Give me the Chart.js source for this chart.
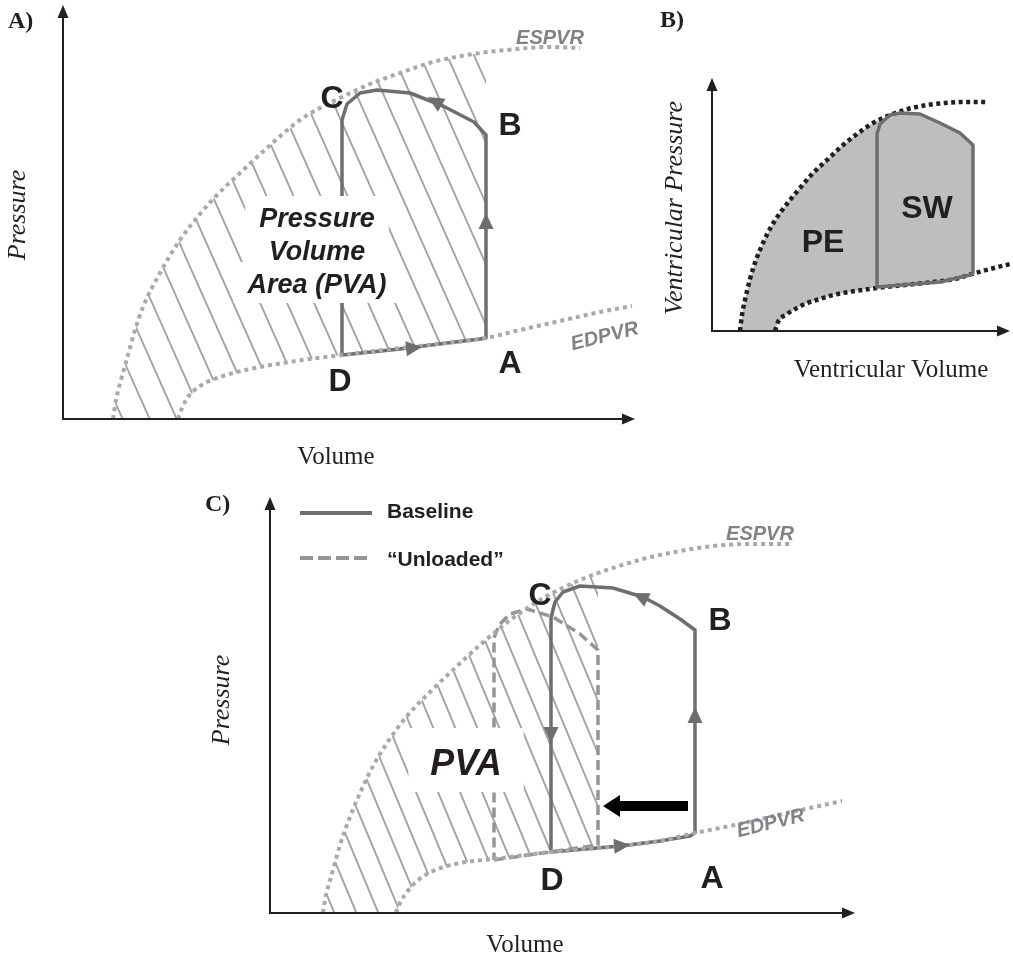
<!DOCTYPE html>
<html><head><meta charset="utf-8">
<script src="https://cdn.jsdelivr.net/npm/chart.js@4/dist/chart.umd.min.js"></script>
<style>
html,body{margin:0;padding:0;background:#fff;}
body{width:1013px;height:969px;position:relative;overflow:hidden;}
canvas{position:absolute;}
</style></head><body>
<canvas id="cA" width="660" height="480" style="left:0;top:0;width:660px;height:480px"></canvas>
<canvas id="cB" width="363" height="400" style="left:650px;top:0;width:363px;height:400px"></canvas>
<canvas id="cC" width="823" height="489" style="left:190px;top:480px;width:823px;height:489px"></canvas>
<script>
// ================= DATA (volume, pressure in arbitrary units) =================
// Panel A
const espvrA = [[12.5,0],[13.25,4.75],[14.5,9.75],[16.25,16],[18,22.25],[20,28],[24.25,36.5],[29.25,44.75],[34.25,51.25],[38.5,56],[44.25,61.5],[51,67.75],[59.25,74.75],[69.25,80.25],[76.75,83.75],[84.25,86.5],[92.5,89.25],[101,91],[113.5,92.5],[121.75,93],[129.25,92.75]];
const edpvrA = [[28.75,0],[29.75,2.75],[31.25,5.5],[34.25,8.25],[39.25,10.5],[46.75,12.5],[55,14],[63.5,15.25],[70,16],[84.25,17.75],[96,19],[105.75,20.25],[114.25,22.25],[124.25,24.5],[134.25,26.75],[142.25,28.25]];
const loopA = [[69.75,16],[84.25,17.5],[96,19],[104.25,20],[105.75,20.25],[105.75,71],[102.75,74.25],[95,78.25],[86.75,81.5],[78.5,82.25],[74.25,81.5],[71,78.75],[69.75,74.75],[69.75,16]];
const arrowsA = [{tip:[105.75,51.5],from:[105.75,45]},{tip:[89.75,18],from:[84.25,17.4]},{tip:[91.25,80.5],from:[95,78.25]}];
const pvaRightA = 105.75;

// Panel B
const espvrB = [[14,0],[15,8],[16.5,15.5],[19,26],[22,35.5],[25.5,44],[29.5,52],[34,59],[39,65.5],[44,71.5],[50.5,79],[57.5,85.5],[65,92.5],[72.5,98.5],[80.5,104],[89,108],[98,111],[107.5,113],[116.5,114],[124,114.5],[138,114.5]];
const edpvrB = [[31.5,0],[33,4.5],[37.5,8.5],[42.5,11.5],[47.5,14],[54,16],[60.5,18],[71.5,20],[82.5,21.5],[96.5,23],[110.5,24.5],[121.5,26],[130,28.5],[139,31],[149,33.5]];
const loopB = [[82.5,22],[114,24.5],[129,28],[130.5,29],[130.5,93],[124,99],[114,104],[104,108.5],[94,109],[89,108],[84,103.5],[82.5,98.5],[82.5,22]];

// Panel C
const espvrC = [[13.25,0],[13.75,3.25],[15.75,10.75],[17.5,17],[20,24],[22.5,30],[25.5,36.25],[29.25,42.5],[34.25,49.25],[40,55.25],[46.25,61.25],[52.5,67],[60.75,73.75],[69.25,79.25],[77.5,83.25],[85.75,86.25],[94.25,88.75],[102.5,90.5],[110.75,91.75],[120,92.25],[130,92.25]];
const edpvrC = [[31.5,0],[32.5,2.5],[34.25,5.25],[36.75,8],[40.75,10.5],[47.5,12.5],[55.75,13.5],[70.25,15.25],[87.5,16.75],[97.5,18],[106.25,20],[115,21.75],[125,24],[135,26.25],[143,28]];
const baselineC = [[70.25,15.25],[87.5,16.75],[97.5,18],[105,19.25],[106.25,20],[106.25,70.75],[102.5,73.5],[97.5,76.75],[93.25,79],[85.75,81.25],[77.5,81.75],[73.25,80.25],[71.25,77.75],[70.25,73.75],[70.25,15.25]];
const unloadedC = [[56,13.25],[82,17],[82,65.75],[77.5,69.75],[70.75,74],[64.25,76],[60,74.75],[57.25,72],[56,68.75],[56,13.25]];
const arrowsC = [{tip:[106.25,51.5],from:[106.25,45]},{tip:[70.25,42.5],from:[70.25,49]},{tip:[90,17],from:[84,16.5]},{tip:[90.75,80],from:[97.5,76.75]}];
const shiftArrowC = [[104.5,26.75],[83.25,26.75]];
const pvaRightC = 82;

// ================= HELPERS =================
const INK = '#231f20', LOOP = '#6d6e70', DOT = '#a7a9ac', HATCH = '#a0a2a5';
const SANS = '"Liberation Sans", Arial, sans-serif', SERIF = '"Liberation Serif", "Times New Roman", serif';

function interpY(arr, x){
  for (let i=1;i<arr.length;i++){const [x0,y0]=arr[i-1],[x1,y1]=arr[i]; if(x>=x0&&x<=x1) return y0+(y1-y0)*(x-x0)/(x1-x0);}
  return arr[arr.length-1][1];
}
function pvaRegion(esp, edp, xr){
  const top = esp.filter(p=>p[0]<xr); top.push([xr, interpY(esp,xr)]);
  const bot = edp.filter(p=>p[0]<xr); bot.push([xr, interpY(edp,xr)]);
  return top.concat(bot.reverse());
}
function lineDS(label, pts, color, width, dash, smooth){
  return {label, data:pts.map(([x,y])=>({x,y})), showLine:true, borderColor:color, backgroundColor:color,
    borderWidth:width, borderDash:dash||[], pointRadius:0, pointHoverRadius:0, fill:false, clip:false,
    cubicInterpolationMode: smooth?'monotone':'default', tension:0,
    borderCapStyle: (dash&&dash.length)?'butt':'round', borderJoinStyle:'round'};
}
function px(chart, p){ return [chart.scales.x.getPixelForValue(p[0]), chart.scales.y.getPixelForValue(p[1])]; }
function polyPath(chart, pts){
  const ctx = chart.ctx; ctx.beginPath();
  pts.forEach((p,i)=>{const [a,b]=px(chart,p); i?ctx.lineTo(a,b):ctx.moveTo(a,b);}); ctx.closePath();
}
function arrowHead(ctx, tip, from, len, half, color){
  const ang = Math.atan2(tip[1]-from[1], tip[0]-from[0]);
  ctx.save(); ctx.translate(tip[0],tip[1]); ctx.rotate(ang);
  ctx.beginPath(); ctx.moveTo(0,0); ctx.lineTo(-len,-half); ctx.lineTo(-len,half); ctx.closePath();
  ctx.fillStyle=color; ctx.fill(); ctx.restore();
}
function drawAxes(chart){
  const {ctx, chartArea:{left,right,top,bottom}} = chart;
  ctx.save(); ctx.strokeStyle=INK; ctx.lineWidth=2; ctx.lineCap='butt';
  ctx.beginPath(); ctx.moveTo(left,bottom+1); ctx.lineTo(left,top+8);
  ctx.moveTo(left-1,bottom); ctx.lineTo(right-8,bottom); ctx.stroke();
  arrowHead(ctx,[left,top],[left,bottom],13,5.5,INK);
  arrowHead(ctx,[right,bottom],[left,bottom],13,5.5,INK);
  ctx.restore();
}
function text(ctx, off, s, x, y, font, color, align, base, rot){
  ctx.save(); ctx.translate(x-off[0], y-off[1]); if(rot) ctx.rotate(rot*Math.PI/180);
  ctx.font=font; ctx.fillStyle=color; ctx.textAlign=align||'center'; ctx.textBaseline=base||'alphabetic';
  ctx.fillText(s,0,0); ctx.restore();
}
function hatch(chart, region, anchor, spacing, slope){
  const {ctx, chartArea:{left,right,top,bottom}} = chart;
  ctx.save(); polyPath(chart, region); ctx.clip();
  ctx.strokeStyle=HATCH; ctx.lineWidth=1.9;
  const y0=top-20, y1=bottom+20;
  for(let k=-80;k<80;k++){
    const xb = anchor[0]+k*spacing;
    const xa = xb+(y0-anchor[1])/slope, xc = xb+(y1-anchor[1])/slope;
    if (Math.max(xa,xc)<left-50 || Math.min(xa,xc)>right+50) continue;
    ctx.beginPath(); ctx.moveTo(xa,y0); ctx.lineTo(xc,y1); ctx.stroke();
  }
  ctx.restore();
}
function drawArrows(chart, list, color){
  list.forEach(a=>arrowHead(chart.ctx, px(chart,a.tip), px(chart,a.from), 16, 7.5, color));
}
function boxedLines(ctx, off, lines, cx, baselines, font, padX, padTop, padBot){
  ctx.save(); ctx.font=font;
  lines.forEach((s,i)=>{const w=ctx.measureText(s).width; ctx.fillStyle='#fff';
    ctx.fillRect(cx-off[0]-w/2-padX, baselines[i]-off[1]-padTop, w+2*padX, padTop+padBot);});
  lines.forEach((s,i)=>text(ctx, off, s, cx, baselines[i], font, INK));
  ctx.restore();
}
function baseOptions(pad, xmax, ymax){
  return {responsive:false, animation:false, devicePixelRatio:1, events:[],
    layout:{padding:pad},
    scales:{x:{type:'linear',display:false,min:0,max:xmax}, y:{type:'linear',display:false,min:0,max:ymax}},
    plugins:{legend:{display:false}, tooltip:{enabled:false}, title:{display:false}}};
}
const LETTER = 'bold 32px '+SANS;
const LINELBL = 'bold italic 20px '+SANS;

// ================= PANEL A =================
(function(){
  const off=[0,0];
  new Chart(document.getElementById('cA'), {
    type:'scatter',
    data:{datasets:[
      lineDS('ESPVR', espvrA, DOT, 4, [4,4], true),
      lineDS('EDPVR', edpvrA, DOT, 4, [4,4], true),
      lineDS('Loop', loopA, LOOP, 3.5, null, false)
    ]},
    options: baseOptions({left:63, top:5, right:25, bottom:61}, 143, 103.5),
    plugins:[{id:'decorA',
      beforeDatasetsDraw(chart){ hatch(chart, pvaRegion(espvrA, edpvrA, pvaRightA), [147,413], 27, 2.25); },
      afterDatasetsDraw(chart){
        const ctx=chart.ctx;
        drawArrows(chart, arrowsA, LOOP);
        boxedLines(ctx, off, ['Pressure','Volume','Area (PVA)'], 317, [227,260,293], 'bold italic 27px '+SANS, 14, 31, 10);
        drawAxes(chart);
        text(ctx, off, 'A)', 8, 28, 'bold 24px '+SERIF, INK, 'left');
        text(ctx, off, 'Pressure', 18, 215, 'italic 26px '+SERIF, INK, 'center', 'middle', -90);
        text(ctx, off, 'Volume', 336, 457, '25px '+SERIF, INK, 'center', 'middle');
        text(ctx, off, 'ESPVR', 550, 44, LINELBL, '#808285');
        text(ctx, off, 'EDPVR', 606, 342, LINELBL, '#808285', 'center', 'alphabetic', -14);
        text(ctx, off, 'C', 332, 108, LETTER, INK);
        text(ctx, off, 'B', 510, 135, LETTER, INK);
        text(ctx, off, 'A', 510, 373, LETTER, INK);
        text(ctx, off, 'D', 340, 391, LETTER, INK);
      }}]
  });
})();

// ================= PANEL B =================
(function(){
  const off=[650,0];
  const regionB = espvrB.filter(p=>p[0]<89).concat(loopB.slice(0,10).reverse(), edpvrB.filter(p=>p[0]<82.5).reverse());
  new Chart(document.getElementById('cB'), {
    type:'scatter',
    data:{datasets:[
      lineDS('SW loop', loopB, LOOP, 3.5, null, false),
      lineDS('ESPVR', espvrB, INK, 4.5, [4,3.5], true),
      lineDS('EDPVR', edpvrB, INK, 4.5, [4,3.5], true)
    ]},
    options: baseOptions({left:62, top:78, right:3, bottom:69}, 149, 126.5),
    plugins:[{id:'decorB',
      beforeDatasetsDraw(chart){ const ctx=chart.ctx; ctx.save(); polyPath(chart, regionB); ctx.fillStyle='#bcbec0'; ctx.fill(); ctx.restore(); },
      afterDatasetsDraw(chart){
        const ctx=chart.ctx;
        drawAxes(chart);
        text(ctx, off, 'B)', 660, 27, 'bold 24px '+SERIF, INK, 'left');
        text(ctx, off, 'Ventricular Pressure', 675, 208, 'italic 26px '+SERIF, INK, 'center', 'middle', -90);
        text(ctx, off, 'Ventricular Volume', 891, 370, '25px '+SERIF, INK, 'center', 'middle');
        text(ctx, off, 'PE', 823, 252, 'bold 32px '+SANS, INK);
        text(ctx, off, 'SW', 927, 218, 'bold 32px '+SANS, INK);
      }}]
  });
})();

// ================= PANEL C =================
(function(){
  const off=[190,480];
  new Chart(document.getElementById('cC'), {
    type:'scatter',
    data:{datasets:[
      lineDS('ESPVR', espvrC, DOT, 4, [4,4], true),
      lineDS('EDPVR', edpvrC, DOT, 4, [4,4], true),
      lineDS('“Unloaded”', unloadedC, '#939598', 3.5, [10,5], false),
      lineDS('Baseline', baselineC, LOOP, 3.5, null, false)
    ]},
    options: baseOptions({left:80, top:17, right:158, bottom:56}, 146.25, 104),
    plugins:[{id:'decorC',
      beforeDatasetsDraw(chart){ hatch(chart, pvaRegion(espvrC, edpvrC, pvaRightC), [183,420], 22, 2.4); },
      afterDatasetsDraw(chart){
        const ctx=chart.ctx;
        drawArrows(chart, arrowsC, LOOP);
        // black shift arrow
        const t=px(chart, shiftArrowC[0]), h=px(chart, shiftArrowC[1]);
        ctx.save(); ctx.fillStyle='#000';
        const hl=17; ctx.fillRect(h[0]+hl-1, t[1]-5, t[0]-h[0]-hl+1, 10);
        arrowHead(ctx, h, t, hl, 11, '#000'); ctx.restore();
        boxedLines(ctx, off, ['PVA'], 466, [775], 'bold italic 36px '+SANS, 22, 47, 17);
        drawAxes(chart);
        // legend
        const ds = chart.data.datasets;
        ctx.save(); ctx.lineWidth=4; ctx.lineCap='butt';
        ctx.strokeStyle=ds[3].borderColor; ctx.beginPath(); ctx.moveTo(300-off[0],513-off[1]); ctx.lineTo(372-off[0],513-off[1]); ctx.stroke();
        ctx.strokeStyle=ds[2].borderColor; ctx.setLineDash([13,5]); ctx.beginPath(); ctx.moveTo(300-off[0],558-off[1]); ctx.lineTo(372-off[0],558-off[1]); ctx.stroke();
        ctx.restore();
        text(ctx, off, ds[3].label, 387, 518, 'bold 21px '+SANS, INK, 'left');
        text(ctx, off, ds[2].label, 387, 566, 'bold 21px '+SANS, INK, 'left');
        text(ctx, off, 'C)', 205, 511, 'bold 24px '+SERIF, INK, 'left');
        text(ctx, off, 'Pressure', 222, 700, 'italic 26px '+SERIF, INK, 'center', 'middle', -90);
        text(ctx, off, 'Volume', 525, 945, '25px '+SERIF, INK, 'center', 'middle');
        text(ctx, off, 'ESPVR', 760, 540, LINELBL, '#808285');
        text(ctx, off, 'EDPVR', 772, 829, LINELBL, '#808285', 'center', 'alphabetic', -14);
        text(ctx, off, 'C', 540, 605, LETTER, INK);
        text(ctx, off, 'B', 720, 630, LETTER, INK);
        text(ctx, off, 'A', 712, 888, LETTER, INK);
        text(ctx, off, 'D', 552, 890, LETTER, INK);
      }}]
  });
})();
</script>
</body></html>
